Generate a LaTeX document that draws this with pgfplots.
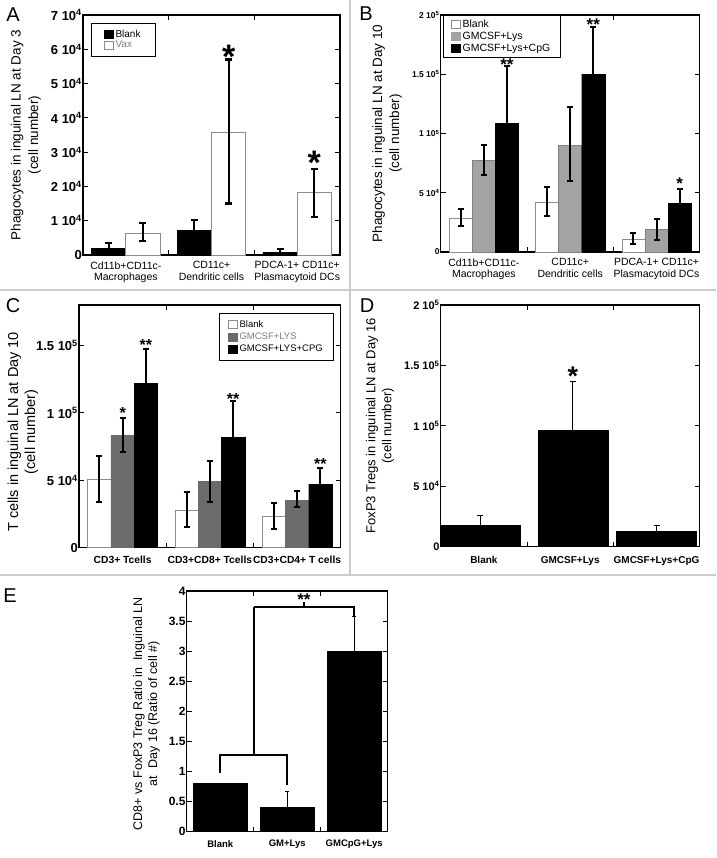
\documentclass[border=0pt]{standalone}
\usepackage{pgfplots}
\pgfplotsset{compat=1.18}
\usepackage{fontspec}
\setmainfont{Liberation Sans}
\definecolor{sepgray}{gray}{0.8}
\definecolor{outgray}{gray}{0.55}
\definecolor{lgray}{gray}{0.64}
\definecolor{mgray}{gray}{0.42}
\newcommand{\fs}[1]{\fontsize{#1}{#1}\selectfont}
\pgfplotsset{
  sqleg/.style={legend image code/.code={\draw[##1, line width=0.6pt] (0pt,-4pt) rectangle (8.5pt,4pt);}},
  panel/.style={
    scale only axis, anchor=south west, clip=false,
    xmin=0.5, xmax=3.5,
    axis line style={line width=1.1pt},
    major tick length=5pt,
    every tick/.style={line width=1pt, black},
    xtick={1.5,2.5}, xticklabels={},
    extra x ticks={1,2,3},
    extra x tick style={major tick length=0pt},
    xticklabel style={align=center},
    scaled y ticks=false,
    yticklabel style={inner sep=1pt},
    legend cell align=left,
    legend style={draw=black, line width=0.9pt, inner xsep=8pt, inner ysep=4pt, row sep=0pt},
  },
  eb/.style n args={3}{error bars/.cd, y dir=#1, y explicit, error bar style={line width=#2, black}, error mark options={rotate=90, mark size=#3, line width=#2, black}},
}
\begin{document}
\begin{tikzpicture}
\useasboundingbox (0,0) rectangle (716pt,858pt);
\fill[white] (0,0) rectangle (716pt,858pt);
\draw[sepgray, line width=1.5pt] (350pt,858pt) -- (350pt,283pt);
\draw[sepgray, line width=1.5pt] (0pt,568pt) -- (716pt,568pt);
\draw[sepgray, line width=1.5pt] (0pt,283pt) -- (716pt,283pt);
\node[font=\fs{20}] at (13pt,843pt) {A};
\node[font=\fs{20}] at (366pt,844pt) {B};
\node[font=\fs{20}] at (13pt,552pt) {C};
\node[font=\fs{20}] at (367pt,552pt) {D};
\node[font=\fs{20}] at (10pt,262pt) {E};

% ---------------- A
\begin{axis}[panel, at={(83pt,603pt)}, width=257pt, height=240pt,
  ymin=0, ymax=70000, ytick={0,10000,20000,30000,40000,50000,60000,70000},
  yticklabels={0,1 10\textsuperscript{4},2 10\textsuperscript{4},3 10\textsuperscript{4},4 10\textsuperscript{4},5 10\textsuperscript{4},6 10\textsuperscript{4},7 10\textsuperscript{4}},
  yticklabel style={font=\bfseries\fs{13}},
  ylabel={Phagocytes in inguinal LN at Day 3\\(cell number)},
  ylabel style={at={(axis description cs:-0.222,0.5)}, anchor=center, align=center, font=\fontsize{13.5}{17.5}\selectfont},
  extra x tick labels={Cd11b+CD11c-\\Macrophages, CD11c+\\Dendritic cells, PDCA-1+ CD11c+\\Plasmacytoid DCs},
  xticklabel style={font=\fontsize{10.5}{11.5}\selectfont, yshift=-3pt},
  legend style={at={(axis description cs:0.031,0.967)}, anchor=north west, font=\fs{10}, inner xsep=13pt, inner ysep=5pt, row sep=-2pt},
]
\addlegendimage{sqleg, fill=black, draw=black}
\addlegendentry{Blank\hspace{10pt}}
\addlegendimage{sqleg, fill=white, draw=outgray}
\addlegendentry{\textcolor{gray}{Vax}}
\addplot[ybar, bar width=0.4, bar shift=0pt, fill=black, draw=black, forget plot, eb={plus}{2.2pt}{3.5pt}]
 table[x=x,y=y,y error plus=ep,y error minus=em,row sep=\\]{x y ep em\\ 0.8 2000 1600 0\\ 1.8 7200 3000 0\\ 2.8 700 1100 0\\};
\addplot[ybar, bar width=0.4, bar shift=0pt, fill=white, draw=outgray, line width=0.8pt, forget plot, eb={both}{2.2pt}{3.5pt}]
 table[x=x,y=y,y error plus=ep,y error minus=em,row sep=\\]{x y ep em\\ 1.2 6400 2900 2400\\ 2.2 35800 21200 20800\\ 3.2 18300 6700 7300\\};
\node[font=\bfseries\fs{34}, anchor=base, inner sep=0pt] at (axis cs:2.2,54500) {*};
\node[font=\bfseries\fs{34}, anchor=base, inner sep=0pt] at (axis cs:3.2,23500) {*};
\end{axis}

% ---------------- B
\begin{axis}[panel, at={(440.7pt,606pt)}, width=259pt, height=237pt,
  ymin=0, ymax=200000, ytick={0,50000,100000,150000,200000},
  yticklabels={0,5 10\textsuperscript{4},1 10\textsuperscript{5},1.5 10\textsuperscript{5},2 10\textsuperscript{5}},
  yticklabel style={font=\bfseries\fs{8.5}},
  ylabel={Phagocytes in inguinal LN at Day 10\\(cell number)},
  ylabel style={at={(axis description cs:-0.207,0.5)}, anchor=center, align=center, font=\fontsize{13.5}{17}\selectfont},
  extra x tick labels={Cd11b+CD11c-\\Macrophages, CD11c+\\Dendritic cells, PDCA-1+ CD11c+\\Plasmacytoid DCs},
  xticklabel style={font=\fontsize{10.5}{11.5}\selectfont, yshift=-3pt},
  legend style={at={(axis description cs:0.009,1)}, anchor=north west, font=\fs{10.5}, inner xsep=8pt, inner ysep=2pt, row sep=-0.5pt},
]
\addlegendimage{sqleg, fill=white, draw=outgray}
\addlegendentry{Blank}
\addlegendimage{sqleg, fill=lgray, draw=lgray}
\addlegendentry{GMCSF+Lys}
\addlegendimage{sqleg, fill=black, draw=black}
\addlegendentry{GMCSF+Lys+CpG}
\addplot[ybar, bar width=0.267, bar shift=0pt, fill=white, draw=outgray, line width=0.8pt, forget plot, eb={both}{2pt}{3pt}]
 table[x=x,y=y,y error plus=ep,y error minus=em,row sep=\\]{x y ep em\\ 0.733 28700 7300 6700\\ 1.733 42000 13000 12000\\ 2.733 11000 5000 4000\\};
\addplot[ybar, bar width=0.267, bar shift=0pt, fill=lgray, draw=gray, line width=0.6pt, forget plot, eb={both}{2pt}{3pt}]
 table[x=x,y=y,y error plus=ep,y error minus=em,row sep=\\]{x y ep em\\ 1 77000 13000 12000\\ 2 90000 32000 30000\\ 3 19000 9000 9000\\};
\addplot[ybar, bar width=0.267, bar shift=0pt, fill=black, draw=black, forget plot, eb={plus}{2pt}{3pt}]
 table[x=x,y=y,y error plus=ep,y error minus=em,row sep=\\]{x y ep em\\ 1.267 108700 48300 0\\ 2.267 150000 40000 0\\ 3.267 41000 12000 0\\};
\node[font=\bfseries\fs{17}, anchor=base, inner sep=0pt] at (axis cs:1.267,153500) {**};
\node[font=\bfseries\fs{17}, anchor=base, inner sep=0pt] at (axis cs:2.267,187000) {**};
\node[font=\bfseries\fs{17}, anchor=base, inner sep=0pt] at (axis cs:3.267,53000) {*};
\end{axis}

% ---------------- C
\begin{axis}[panel, at={(79pt,310.3pt)}, width=261.7pt, height=242.7pt,
  ymin=0, ymax=180000, ytick={0,50000,100000,150000},
  yticklabels={0,5 10\textsuperscript{4},1 10\textsuperscript{5},1.5 10\textsuperscript{5}},
  yticklabel style={font=\bfseries\fs{13}},
  ylabel={T cells in inguinal LN at Day 10\\(cell number)},
  ylabel style={at={(axis description cs:-0.214,0.477)}, anchor=center, align=center, font=\fontsize{14.5}{17}\selectfont},
  extra x tick labels={CD3+ Tcells, CD3+CD8+ Tcells, CD3+CD4+ T cells},
  xticklabel style={font=\bfseries\fs{10.3}, yshift=-5pt},
  legend style={at={(axis description cs:0.535,0.967)}, anchor=north west, font=\fs{9.5}, inner xsep=9pt, inner ysep=5pt, row sep=0pt},
]
\addlegendimage{sqleg, fill=white, draw=outgray}
\addlegendentry{Blank}
\addlegendimage{sqleg, fill=mgray, draw=mgray}
\addlegendentry{\textcolor{gray}{GMCSF+LYS}}
\addlegendimage{sqleg, fill=black, draw=black}
\addlegendentry{GMCSF+LYS+CPG}
\addplot[ybar, bar width=0.267, bar shift=0pt, fill=white, draw=outgray, line width=0.8pt, forget plot, eb={both}{2pt}{3pt}]
 table[x=x,y=y,y error plus=ep,y error minus=em,row sep=\\]{x y ep em\\ 0.733 51000 17000 17000\\ 1.733 28000 13000 13000\\ 2.733 23000 10000 9000\\};
\addplot[ybar, bar width=0.267, bar shift=0pt, fill=mgray, draw=mgray, line width=0.6pt, forget plot, eb={both}{2pt}{3pt}]
 table[x=x,y=y,y error plus=ep,y error minus=em,row sep=\\]{x y ep em\\ 1 83000 13000 12000\\ 2 49000 15000 15000\\ 3 35000 7000 5000\\};
\addplot[ybar, bar width=0.267, bar shift=0pt, fill=black, draw=black, forget plot, eb={plus}{2pt}{3pt}]
 table[x=x,y=y,y error plus=ep,y error minus=em,row sep=\\]{x y ep em\\ 1.267 122000 25000 0\\ 2.267 82000 27000 0\\ 3.267 47000 12000 0\\};
\node[font=\bfseries\fs{16}, anchor=base, inner sep=0pt] at (axis cs:1,96000) {*};
\node[font=\bfseries\fs{16}, anchor=base, inner sep=0pt] at (axis cs:1.267,146000) {**};
\node[font=\bfseries\fs{16}, anchor=base, inner sep=0pt] at (axis cs:2.267,106500) {**};
\node[font=\bfseries\fs{16}, anchor=base, inner sep=0pt] at (axis cs:3.267,58300) {**};
\end{axis}

% ---------------- D
\begin{axis}[panel, at={(440.7pt,311.3pt)}, width=259pt, height=241.7pt,
  ymin=0, ymax=200000, ytick={0,50000,100000,150000,200000},
  yticklabels={0,5 10\textsuperscript{4},1 10\textsuperscript{5},1.5 10\textsuperscript{5},2 10\textsuperscript{5}},
  yticklabel style={font=\bfseries\fs{11}},
  ylabel={FoxP3 Tregs in inguinal LN at Day 16\\(cell number)},
  ylabel style={at={(axis description cs:-0.234,0.5)}, anchor=center, align=center, font=\fontsize{13}{16}\selectfont},
  extra x tick labels={Blank, GMCSF+Lys, GMCSF+Lys+CpG},
  xticklabel style={font=\bfseries\fs{10}, yshift=-6pt},
]
\addplot[ybar, bar width=0.91, bar shift=0pt, fill=black, draw=black, forget plot, eb={plus}{1.2pt}{3pt}]
 table[x=x,y=y,y error plus=ep,row sep=\\]{x y ep\\ 0.96 18000 8000\\};
\addplot[ybar, bar width=0.81, bar shift=0pt, fill=black, draw=black, forget plot, eb={plus}{1.2pt}{3pt}]
 table[x=x,y=y,y error plus=ep,row sep=\\]{x y ep\\ 2.03 96000 41000\\};
\addplot[ybar, bar width=0.93, bar shift=0pt, fill=black, draw=black, forget plot, eb={plus}{1.2pt}{3pt}]
 table[x=x,y=y,y error plus=ep,row sep=\\]{x y ep\\ 3.0 13000 4500\\};
\node[font=\bfseries\fs{27}, anchor=base, inner sep=0pt] at (axis cs:2.03,133000) {*};
\end{axis}

% ---------------- E
\begin{axis}[panel, at={(186.7pt,26.3pt)}, width=201pt, height=240.7pt,
  ymin=0, ymax=4, ytick={0,0.5,1,1.5,2,2.5,3,3.5,4},
  yticklabels={0,0.5,1,1.5,2,2.5,3,3.5,4},
  yticklabel style={font=\bfseries\fs{12}},
  ylabel={CD8+ vs FoxP3 Treg Ratio in~ Inguinal LN\\at~ Day 16 (Ratio of cell \#)},
  ylabel style={at={(axis description cs:-0.2,0.49)}, anchor=center, align=center, font=\fontsize{12.5}{15}\selectfont},
  extra x tick labels={Blank, GM+Lys, GMCpG+Lys},
  xticklabel style={font=\bfseries\fs{9.5}, yshift=-5pt},
]
\addplot[ybar, bar width=0.8, bar shift=0pt, fill=black, draw=black, forget plot, eb={plus}{0.9pt}{2pt}]
 table[x=x,y=y,y error plus=ep,row sep=\\]{x y ep\\ 1 0.80 0.01\\ 2 0.40 0.27\\ 3 3.00 0.57\\};
\addplot[black, line width=2pt, forget plot] coordinates {(1,0.97) (1,1.28) (2,1.28) (2,0.78)};
\addplot[black, line width=2pt, forget plot] coordinates {(1.5,1.28) (1.5,3.74)};
\addplot[black, line width=2pt, forget plot] coordinates {(1.5,3.74) (3,3.74) (3,3.57)};
\addplot[black, line width=1.5pt, forget plot] coordinates {(2.25,3.74) (2.25,3.82)};
\node[font=\bfseries\fs{17}, anchor=base, inner sep=0pt] at (axis cs:2.25,3.76) {**};
\end{axis}
\end{tikzpicture}
\end{document}
